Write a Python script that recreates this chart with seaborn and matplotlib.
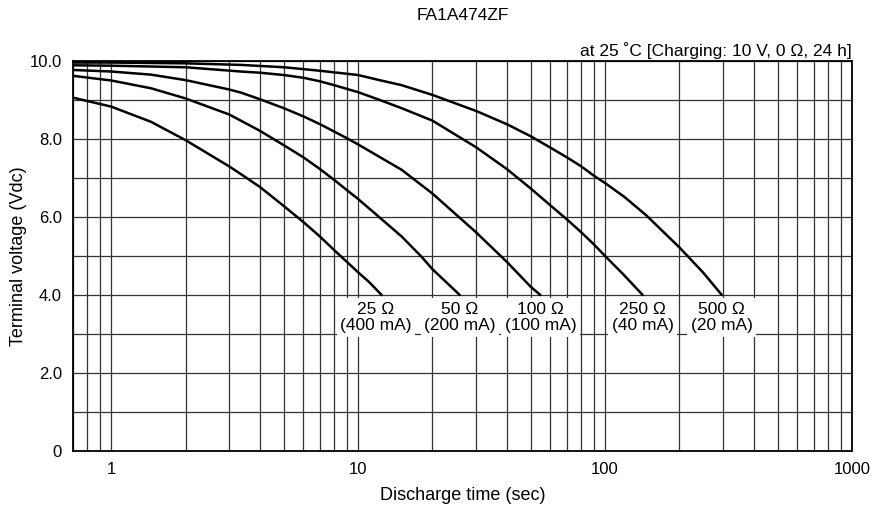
import numpy as np
import pandas as pd
import matplotlib
matplotlib.use("Agg")
import matplotlib.pyplot as plt
import seaborn as sns
from matplotlib.ticker import FixedLocator, NullFormatter, LogLocator

# ---- data ----
t_25 = [0.7, 1, 1.45, 2, 3, 3.35, 4, 5, 6, 7, 8, 9, 10, 11, 12.45]
v_25 = [9.06, 8.83, 8.44, 7.97, 7.30, 7.10, 6.77, 6.28, 5.87, 5.50, 5.15, 4.85, 4.58, 4.35, 4.0]

t_50 = [0.7, 1, 1.45, 2, 3, 3.35, 4, 5, 6, 7, 8, 9, 10, 12, 15, 18, 20, 25.8]
v_50 = [9.62, 9.50, 9.30, 9.04, 8.63, 8.47, 8.21, 7.84, 7.53, 7.23, 6.95, 6.69, 6.46, 6.03, 5.50, 4.99, 4.66, 4.0]

t_100 = [0.7, 1, 1.45, 2, 3, 3.35, 4, 5, 6, 7, 8, 9, 10, 15, 20, 30, 40, 50, 54.7]
v_100 = [9.77, 9.73, 9.65, 9.51, 9.27, 9.19, 9.02, 8.79, 8.58, 8.38, 8.19, 8.02, 7.86, 7.21, 6.60, 5.61, 4.85, 4.21, 4.0]

t_250 = [0.7, 1, 2, 3.35, 4, 5, 6, 7, 8, 10, 12, 15, 20, 30, 40, 50, 60, 70, 80, 90, 100, 118.5, 142]
v_250 = [9.89, 9.88, 9.84, 9.73, 9.70, 9.64, 9.57, 9.48, 9.38, 9.20, 9.02, 8.79, 8.47, 7.79, 7.23, 6.73, 6.30, 5.94, 5.61, 5.30, 5.00, 4.53, 4.0]

t_500 = [0.7, 1, 2, 3.35, 5, 7, 10, 12, 15, 20, 30, 40, 50, 60, 70, 80, 90, 100, 120, 147, 200, 250, 297]
v_500 = [9.96, 9.96, 9.94, 9.90, 9.84, 9.75, 9.64, 9.52, 9.38, 9.13, 8.72, 8.38, 8.07, 7.78, 7.53, 7.30, 7.06, 6.87, 6.51, 6.04, 5.22, 4.57, 4.0]

series_names = ["25 \u03a9\n(400 mA)", "50 \u03a9\n(200 mA)", "100 \u03a9\n(100 mA)",
                "250 \u03a9\n(40 mA)", "500 \u03a9\n(20 mA)"]
series_t = [t_25, t_50, t_100, t_250, t_500]
series_v = [v_25, v_50, v_100, v_250, v_500]

x_ticks = [1, 10, 100, 1000]
x_ticklabels = ["1", "10", "100", "1000"]
y_ticks = [0, 2, 4, 6, 8, 10]
y_ticklabels = ["0", "2.0", "4.0", "6.0", "8.0", "10.0"]

title = "FA1A474ZF"
note = "at 25 \u02daC [Charging: 10 V, 0 \u03a9, 24 h]"
xlabel = "Discharge time (sec)"
ylabel = "Terminal voltage (Vdc)"

# ---- build table ----
rows = []
for name, ts, vs in zip(series_names, series_t, series_v):
    for t, v in zip(ts, vs):
        rows.append({"load": name, "t": t, "V": v})
df = pd.DataFrame(rows)

sns.set_style("white")
plt.rcParams["font.family"] = ["Liberation Sans", "DejaVu Sans"]
plt.rcParams["font.size"] = 12
plt.rcParams["text.color"] = "black"

fig = plt.figure(figsize=(8.77, 5.13), dpi=100)
ax = fig.add_axes([73 / 877, 62 / 513, 779 / 877, 390 / 513])

ax.set_xscale("log")
ax.set_xlim(0.7, 1000)
ax.set_ylim(0, 10)

# grid
ax.xaxis.set_major_locator(FixedLocator(x_ticks))
ax.xaxis.set_minor_locator(LogLocator(base=10, subs=np.arange(2, 10), numticks=20))
ax.xaxis.set_minor_formatter(NullFormatter())
ax.yaxis.set_major_locator(FixedLocator(y_ticks))
ax.yaxis.set_minor_locator(FixedLocator([1, 3, 5, 7, 9]))
ax.grid(which="both", color="#333333", linewidth=0.9)
ax.set_axisbelow(True)

sns.lineplot(data=df, x="t", y="V", hue="load", units="load", estimator=None,
             palette={n: "black" for n in series_names}, linewidth=1.8,
             legend=False, ax=ax)

ax.set_xticks(x_ticks)
ax.set_xticklabels(x_ticklabels)
ax.set_yticks(y_ticks)
ax.set_yticklabels(y_ticklabels)
ax.tick_params(which="both", length=0, labelsize=12, colors="black")
ax.tick_params(axis="x", pad=8)
ax.tick_params(axis="y", pad=8)

for s in ax.spines.values():
    s.set_visible(True)
    s.set_color("black")
    s.set_linewidth(1.3)

ax.set_xlabel(xlabel, fontsize=13, labelpad=7, color="black")
ax.set_ylabel(ylabel, fontsize=13, labelpad=2, color="black")

fig.suptitle(title, fontsize=12.5, x=(73 + 852) / 2 / 877, y=1 - 8 / 513, va="top", color="black")
ax.text(1.0, 1.006, note, transform=ax.transAxes, ha="right", va="bottom", fontsize=12.5,
        color="black")

# labels under curve ends
offsets = [-4, 0, 0, 0, 0]
for name, ts, vs, off in zip(series_names, series_t, series_v, offsets):
    ax.annotate(name, xy=(ts[-1], vs[-1]), xytext=(off, -5), textcoords="offset points",
                ha="center", va="top", fontsize=12.5, linespacing=1.12, color="black",
                bbox=dict(boxstyle="square,pad=0.2", fc="white", ec="none"))

fig.savefig("out.png", dpi=100)
